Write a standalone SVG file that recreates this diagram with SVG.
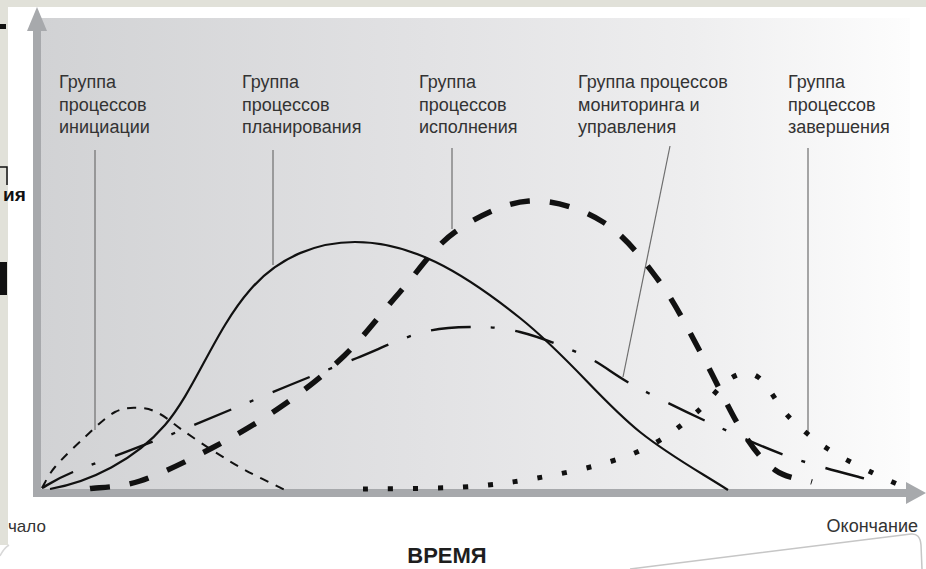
<svg xmlns="http://www.w3.org/2000/svg" width="926" height="569" viewBox="0 0 926 569">
<defs>
<linearGradient id="bg" x1="33" y1="0" x2="910" y2="0" gradientUnits="userSpaceOnUse">
<stop offset="0" stop-color="#d1d2d4"/>
<stop offset="0.45" stop-color="#e2e2e4"/>
<stop offset="0.75" stop-color="#eeeeef"/>
<stop offset="1" stop-color="#fdfdfd"/>
</linearGradient>
<style>
.lbl{font-family:"Liberation Sans",Arial,sans-serif;font-size:18px;fill:#333333}
.ax{fill:#a7a9ac}
.lead{stroke:#6e6e6e;stroke-width:1.2;fill:none}
.crv{fill:none;stroke:#111}
.slide{fill:#e1e1d9}
</style>
</defs>
<rect width="926" height="569" fill="#ffffff"/>
<!-- slide background fragments -->
<g id="slide">
<rect class="slide" x="0" y="0" width="926" height="7"/>
<rect class="slide" x="0" y="0" width="8" height="545"/>
<path d="M0 556 Q4 548 9 545" fill="none" stroke="#d8d8d8" stroke-width="1.5"/>
<rect x="0" y="24" width="6" height="5" fill="#111"/>
<path d="M0 167 H7 V185" fill="none" stroke="#111" stroke-width="1.5"/>
<text x="3" y="201" style="font-family:'Liberation Sans',Arial,sans-serif;font-size:19px;font-weight:bold;fill:#111">ия</text>
<rect x="0" y="262" width="7" height="33" fill="#111"/>
<path d="M630 569 L911 534 Q920 533 921 545 L922 569" fill="none" stroke="#c6c6c6" stroke-width="1.5"/>
</g>
<!-- chart background -->
<rect x="33" y="18" width="877" height="479" fill="url(#bg)"/>
<!-- axes -->
<g id="axes">
<rect class="ax" x="33" y="28" width="8" height="469"/>
<polygon class="ax" points="37,7 47,31 27,31"/>
<rect class="ax" x="33" y="489" width="875" height="8"/>
<polygon class="ax" points="926,493 906,482 906,504"/>
</g>
<!-- labels -->
<g id="label-initiation" class="lbl">
<text x="59" y="88">Группа</text><text x="59" y="111">процессов</text><text x="59" y="133">инициации</text>
</g>
<g id="label-planning" class="lbl">
<text x="242" y="88">Группа</text><text x="242" y="111">процессов</text><text x="242" y="133">планирования</text>
</g>
<g id="label-execution" class="lbl">
<text x="419" y="88">Группа</text><text x="419" y="111">процессов</text><text x="419" y="133">исполнения</text>
</g>
<g id="label-monitoring" class="lbl">
<text x="578" y="88">Группа процессов</text><text x="578" y="111">мониторинга и</text><text x="578" y="133">управления</text>
</g>
<g id="label-closing" class="lbl">
<text x="788" y="88">Группа</text><text x="788" y="111">процессов</text><text x="788" y="133">завершения</text>
</g>
<!-- leader lines -->
<g id="connectors">
<line class="lead" x1="95" y1="150" x2="95" y2="430"/>
<line class="lead" x1="273" y1="150" x2="273" y2="265"/>
<line class="lead" x1="452" y1="148" x2="452" y2="229"/>
<line class="lead" x1="670" y1="146" x2="623" y2="377"/>
<line class="lead" x1="808" y1="148" x2="808" y2="434"/>
</g>
<!-- curves -->
<g id="curves">
<path id="initiation" class="crv" stroke-width="2" stroke-dasharray="9 8" d="M42 488 C44.2 484.5 47.8 475.5 55 467 C62.2 458.5 75 446.2 85 437 C95 427.8 105.8 416.8 115 412 C124.2 407.2 132.5 407.7 140 408 C147.5 408.3 152.5 410 160 414 C167.5 418 175.8 425.7 185 432 C194.2 438.3 205 445.7 215 452 C225 458.3 233.3 463.7 245 470 C256.7 476.3 278.3 486.7 285 490"/>
<path id="planning" class="crv" stroke-width="2.2" d="M50 489 C90 482 135 460 165 425 C195 390 215 330 250 290 C280 255 320 242 355 242 C410 242 460 270 520 318 C570 358 600 400 640 432 C670 456 700 472 728 490"/>
<path id="execution" class="crv" stroke-width="5.5" stroke-dasharray="20 20" d="M90 488.5 C98.3 487.2 119.7 487.8 140 481 C160.3 474.2 188.3 460.5 212 448 C235.7 435.5 259.8 421.5 282 406 C304.2 390.5 325.3 374 345 355 C364.7 336 381.7 312.5 400 292 C418.3 271.5 433.5 247.2 455 232 C476.5 216.8 504.3 202.7 529 201 C553.7 199.3 581.3 208.7 603 222 C624.7 235.3 642.5 258.8 659 281 C675.5 303.2 688.2 330 702 355 C715.8 380 729.8 411.8 742 431 C754.2 450.2 763.3 461.5 775 470 C786.7 478.5 805.8 480 812 482"/>
<path id="monitoring" class="crv" stroke-width="2.4" stroke-dasharray="40 20 4 21" stroke-dashoffset="5" d="M42 488 C47.2 485.3 53.8 480 73 472 C92.2 464 130.8 450.3 157 440 C183.2 429.7 207.8 419.2 230 410 C252.2 400.8 268.8 393.7 290 385 C311.2 376.3 335.3 366.7 357 358 C378.7 349.3 401.2 338.2 420 333 C438.8 327.8 453.3 327.2 470 327 C486.7 326.8 500.8 327.2 520 332 C539.2 336.8 566.2 347.2 585 356 C603.8 364.8 612.2 373.8 633 385 C653.8 396.2 683.8 411 710 423 C736.2 435 763.3 447.5 790 457 C816.7 466.5 856.7 476.2 870 480"/>
<path id="closing" class="crv" stroke-width="5" stroke-dasharray="5 20" d="M363 489 C379.7 488.7 434 488.8 463 487 C492 485.2 512.7 482.2 537 478 C561.3 473.8 589 468 609 462 C629 456 642.3 450.3 657 442 C671.7 433.7 684.7 422.7 697 412 C709.3 401.3 720.8 383.8 731 378 C741.2 372.2 748.3 370.5 758 377 C767.7 383.5 777.3 405 789 417 C800.7 429 814 439.7 828 449 C842 458.3 861.5 467.2 873 473 C884.5 478.8 893 482.2 897 484"/>
</g>
<!-- axis texts -->
<g id="axis-labels">
<text x="8" y="532" style="font-family:'Liberation Sans',Arial,sans-serif;font-size:17px;fill:#333">чало</text>
<text x="918" y="532" text-anchor="end" style="font-family:'Liberation Sans',Arial,sans-serif;font-size:18px;fill:#333">Окончание</text>
<text x="447" y="563" text-anchor="middle" style="font-family:'Liberation Sans',Arial,sans-serif;font-size:22px;font-weight:bold;fill:#1e1e1e">ВРЕМЯ</text>
</g>
</svg>
